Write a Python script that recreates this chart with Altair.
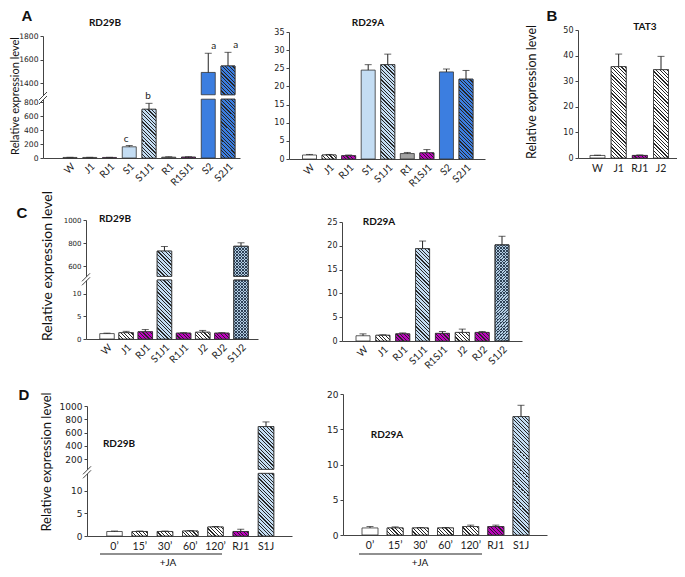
import altair as alt
import pandas as pd

# ------------------------------------------------------------------ data
A_CATS = ["W", "J1", "RJ1", "S1", "S1J1", "R1", "R1SJ1", "S2", "S2J1"]
A_RD29B_MEAN = [8, 8, 8, 160, 696, 12, 12, 1490, 1545]
A_RD29B_ERR = [2, 2, 2, 18, 85, 6, 6, 163, 116]
A_RD29B_SIG = ["", "", "", "c", "b", "", "", "a", "a"]
A_RD29A_MEAN = [1.1, 1.1, 0.9, 24.5, 26.0, 1.5, 1.7, 24.0, 22.0]
A_RD29A_ERR = [0.15, 0.15, 0.2, 1.5, 2.9, 0.3, 0.9, 0.8, 2.4]

B_CATS = ["W", "J1", "RJ1", "J2"]
B_TAT3_MEAN = [1.0, 35.7, 1.0, 34.5]
B_TAT3_ERR = [0.1, 4.9, 0.2, 5.2]

C_RD29B_CATS = ["W", "J1", "RJ1", "S1J1", "R1J1", "J2", "RJ2", "S1J2"]
C_RD29B_MEAN = [1.2, 1.4, 1.6, 730, 1.3, 1.5, 1.3, 772]
C_RD29B_ERR = [0.1, 0.3, 0.5, 40, 0.1, 0.4, 0.1, 30]
C_RD29A_CATS = ["W", "J1", "RJ1", "S1J1", "R1SJ1", "J2", "RJ2", "S1J2"]
C_RD29A_MEAN = [1.1, 1.2, 1.5, 19.4, 1.6, 1.8, 1.8, 20.2]
C_RD29A_ERR = [0.4, 0.1, 0.2, 1.6, 0.4, 0.7, 0.2, 1.8]

D_CATS = ["0’", "15’", "30’", "60’", "120’", "RJ1", "S1J"]
D_RD29B_MEAN = [1.0, 1.0, 1.0, 1.1, 2.0, 1.0, 690]
D_RD29B_ERR = [0.1, 0.1, 0.1, 0.1, 0.1, 0.5, 70]
D_RD29A_MEAN = [1.0, 1.0, 1.0, 1.0, 1.2, 1.2, 16.8]
D_RD29A_ERR = [0.2, 0.15, 0.05, 0.05, 0.2, 0.2, 1.6]

# ------------------------------------------------------------------ styles
WHITE, MAG, LBLUE, GRAY, BLUE = "#ffffff", "#c000c0", "#c4ddf3", "#a3a3a3", "#3c7ee0"
STYLE = {
    "W": (WHITE, "plain"), "J1": (WHITE, "hatch"), "J2": (WHITE, "hatch"),
    "RJ1": (MAG, "hatch"), "RJ2": (MAG, "hatch"), "R1SJ1": (MAG, "hatch"), "R1J1": (MAG, "hatch"),
    "S1": (LBLUE, "plain"), "S1J1": (LBLUE, "hatch"), "S1J": (LBLUE, "hatch"), "S1J2": ("#b3cde3", "dots"),
    "R1": (GRAY, "plain"), "S2": (BLUE, "plain"), "S2J1": (BLUE, "hatch"),
    "0’": (WHITE, "plain"), "15’": (WHITE, "hatch"), "30’": (WHITE, "hatch"),
    "60’": (WHITE, "hatch"), "120’": (WHITE, "hatch"),
}

OX = OY = 8
WCH, HCH = 669, 561
def cx(x): return x - OX
def cy(y): return y - OY

NUMFONT = "DejaVu Sans"
TXTFONT = "Lato"
AXC = "#444"

def band_params(left, right, c0, c1, bw, n):
    step = (c1 - c0) / (n - 1)
    pi = 1 - bw / step
    extra = (right - left) - step * (n - pi)
    po = extra / (2 * step)
    align = (c0 - bw / 2 - left) / extra
    return dict(paddingInner=pi, paddingOuter=po, align=align)

def stripe_grad(w, h, bg, line, period, frac, direction):
    L = w + h
    k = L / (w * w + h * h)
    if direction == "back":
        x1, y1, x2, y2 = 0, 1, k * w, 1 - k * h
    else:
        x1, y1, x2, y2 = 0, 0, k * w, k * h
    stops = []
    n = int(L / period) + 2
    for i in range(n):
        a = i * period / L
        b = (i * period + frac * period) / L
        c = (i + 1) * period / L
        for off, col in ((a, line), (b, line), (b, bg), (c, bg)):
            stops.append({"offset": min(max(off, 0.0), 1.0), "color": col})
    return {"gradient": "linear", "x1": x1, "y1": y1, "x2": x2, "y2": y2, "stops": stops}

PANELS = [
    dict(cats=A_CATS, mean=A_RD29B_MEAN, err=A_RD29B_ERR, sig=A_RD29B_SIG,
         xax=(43, 240, 158), centers=(70, 228), bw=14, angle=-45, xlab=10, ylab=7.6, yx=43,
         segs=[((0, 840), (158, 99.2), [0, 200, 400, 600, 800]),
               ((1300, 1800), (94.75, 36), [1400, 1600, 1800])]),
    dict(cats=A_CATS, mean=A_RD29A_MEAN, err=A_RD29A_ERR, sig=None,
         xax=(289, 485, 159), centers=(309.5, 466), bw=14, angle=-45, xlab=10, ylab=8, yx=289,
         segs=[((0, 35), (159, 32), [0, 5, 10, 15, 20, 25, 30, 35])]),
    dict(cats=B_CATS, mean=B_TAT3_MEAN, err=B_TAT3_ERR, sig=None,
         xax=(578, 680, 158), centers=(597.5, 661), bw=15, angle=0, xlab=10.5, ylab=8, yx=578,
         segs=[((0, 50), (158, 30), [0, 10, 20, 30, 40, 50])]),
    dict(cats=C_RD29B_CATS, mean=C_RD29B_MEAN, err=C_RD29B_ERR, sig=None,
         xax=(86, 258, 339), centers=(107, 241), bw=14.5, angle=-45, xlab=10, ylab=7, yx=86,
         segs=[((0, 13.1), (339, 280), [0, 5, 10]),
               ((510, 1000), (276.4, 220), [600, 800, 1000])]),
    dict(cats=C_RD29A_CATS, mean=C_RD29A_MEAN, err=C_RD29A_ERR, sig=None,
         xax=(342, 522, 341), centers=(363, 502), bw=14, angle=-45, xlab=10, ylab=8, yx=342,
         segs=[((0, 25), (341, 222), [0, 5, 10, 15, 20, 25])]),
    dict(cats=D_CATS, mean=D_RD29B_MEAN, err=D_RD29B_ERR, sig=None,
         xax=(87, 292, 536), centers=(114.5, 266), bw=15.5, angle=0, xlab=10.5, ylab=9, yx=87,
         segs=[((0, 13.9), (536, 473.4), [0, 5, 10]),
               ((45, 1000), (469.3, 406), [200, 400, 600, 800, 1000])]),
    dict(cats=D_CATS, mean=D_RD29A_MEAN, err=D_RD29A_ERR, sig=None,
         xax=(343, 547, 535), centers=(370, 521), bw=16, angle=0, xlab=10.5, ylab=9, yx=343,
         segs=[((0, 20), (535, 394), [0, 5, 10, 15, 20])]),
]


def make_segment(p, seg, first):
    (lo, hi), (rb, rt), ticks = seg
    cats = p["cats"]
    sig = p["sig"] or [""] * len(cats)
    df = pd.DataFrame({
        "cat": cats, "mean": p["mean"],
        "top": [m + e for m, e in zip(p["mean"], p["err"])],
        "sig": sig,
        "fill": [STYLE[c][0] for c in cats],
        "sty": [STYLE[c][1] for c in cats],
    })
    seg_df = df[df["mean"] > lo].copy()
    seg_df["b0"] = lo
    seg_df["b1"] = seg_df["mean"].clip(upper=hi)
    err_df = seg_df[seg_df["mean"] <= hi]

    left, right, axy = p["xax"]
    band = band_params(left, right, p["centers"][0], p["centers"][1], p["bw"], len(cats))
    xs = alt.Scale(domain=cats, range=[cx(left), cx(right)], **band)
    ys = alt.Scale(domain=[lo, hi], range=[cy(rb), cy(rt)], nice=False, zero=False)

    if first:
        common = dict(orient="bottom", offset=cy(axy) - HCH, title=None, ticks=False, grid=False,
                      labelFont=TXTFONT, labelFontSize=p["xlab"], labelColor="#222",
                      domainColor=AXC, labelOverlap=False)
        if p["angle"]:
            xax = alt.Axis(labelAngle=p["angle"], labelAlign="right", labelBaseline="top",
                           labelPadding=3, **common)
        else:
            xax = alt.Axis(labelAngle=0, labelPadding=5, **common)
    else:
        xax = None
    yax = alt.Axis(orient="left", offset=-cx(p["yx"]), values=ticks, title=None, grid=False,
                   labelFont=NUMFONT, labelFontSize=p["ylab"], labelColor="#222", domainColor=AXC,
                   tickColor=AXC, tickSize=3, labelPadding=2, format="d", labelOverlap=False,
                   labelFlush=False)

    X = lambda ax=None: alt.X("cat:N", scale=xs, axis=ax)
    out = [
        alt.Chart(seg_df).mark_bar(stroke="#333", strokeWidth=0.8).encode(
            x=X(xax), y=alt.Y("b1:Q", scale=ys, axis=yax), y2="b0:Q",
            fill=alt.Fill("fill:N", scale=None))
    ]
    bw = p["bw"]
    for _, r in seg_df.iterrows():
        if r["sty"] == "plain":
            continue
        hpx = (r["b1"] - lo) / (hi - lo) * (rb - rt)
        if hpx < 0.8:
            continue
        sub = seg_df[seg_df["cat"] == r["cat"]]
        if r["sty"] == "hatch":
            grads = [stripe_grad(bw, hpx, r["fill"], "#262626", 3.6, 0.33, "back")]
        else:
            grads = [stripe_grad(bw, hpx, "rgba(0,0,0,0)", "#2f4257", 3.0, 0.28, "back"),
                     stripe_grad(bw, hpx, "rgba(0,0,0,0)", "#2f4257", 3.0, 0.28, "fwd")]
        for g in grads:
            out.append(alt.Chart(sub).mark_bar(fill=g).encode(
                x=X(), y=alt.Y("b1:Q", scale=ys, axis=None), y2="b0:Q"))
        out.append(alt.Chart(sub).mark_bar(fill="transparent", stroke="#333", strokeWidth=0.8).encode(
            x=X(), y=alt.Y("b1:Q", scale=ys, axis=None), y2="b0:Q"))
    if len(err_df):
        out.append(alt.Chart(err_df).mark_rule(color="#222", strokeWidth=1).encode(
            x=X(), y=alt.Y("mean:Q", scale=ys, axis=None), y2="top:Q"))
        out.append(alt.Chart(err_df).mark_tick(orient="horizontal", size=7, thickness=1, color="#222").encode(
            x=X(), y=alt.Y("top:Q", scale=ys, axis=None)))
        sdf = err_df[err_df["sig"] != ""]
        if len(sdf):
            out.append(alt.Chart(sdf).mark_text(dy=-7, fontSize=10, font=TXTFONT, color="#222").encode(
                x=X(), y=alt.Y("top:Q", scale=ys, axis=None), text="sig:N"))
    return out


DUMMY = alt.Data(values=[{"k": 0}])

def txt(s, x, y, size, bold=False, font=TXTFONT, angle=0):
    return alt.Chart(DUMMY).mark_text(text=s, fontSize=size, font=font,
                                      fontWeight="bold" if bold else "normal", angle=angle,
                                      align="center", baseline="middle", color="#111").encode(
        x=alt.value(cx(x)), y=alt.value(cy(y)))

def line(x1, y1, x2, y2, w=1.0, color="#333"):
    return alt.Chart(DUMMY).mark_rule(color=color, strokeWidth=w).encode(
        x=alt.value(cx(x1)), x2=alt.value(cx(x2)), y=alt.value(cy(y1)), y2=alt.value(cy(y2)))

def brk(ax, yc):
    return [line(ax - 4, yc + 5 + d, ax + 4, yc - 3 + d, 1.0, "#444") for d in (-2, 2)]


layers = []
for p in PANELS:
    for i, seg in enumerate(p["segs"]):
        layers.extend(make_segment(p, seg, i == 0))

deco = [
    txt("A", 27, 16, 15, True, "Liberation Sans"),
    txt("B", 552, 16, 15, True, "Liberation Sans"),
    txt("C", 22, 213, 15, True, "Liberation Sans"),
    txt("D", 24, 395, 15, True, "Liberation Sans"),
    txt("RD29B", 105, 23, 10, True), txt("RD29A", 368, 23, 10, True), txt("TAT3", 645, 27, 10, True),
    txt("RD29B", 115, 219, 10, True), txt("RD29A", 379, 222, 10, True),
    txt("RD29B", 119, 444, 10, True), txt("RD29A", 387, 435, 10, True),
    txt("Relative expression level", 15.5, 96, 11, angle=270),
    txt("Relative expression level", 532, 92, 12.5, angle=270),
    txt("Relative expression level", 48, 266, 14, angle=270),
    txt("Relative expression level", 47, 462, 13, angle=270),
    line(100, 554, 222, 554, 1.2, "#222"), line(359, 554, 482, 554, 1.2, "#222"),
    txt("+JA", 168, 562.5, 10), txt("+JA", 420, 562.5, 10),
] + brk(43, 97) + brk(86, 278.3) + brk(87, 471.3)

chart = alt.layer(*(layers + deco)).resolve_scale(x="independent", y="independent").properties(
    width=WCH, height=HCH, autosize=alt.AutoSizeParams(type="none"), padding=0
).configure_view(stroke=None)

chart.save("out.html", embed_options={"renderer": "svg", "actions": False})
